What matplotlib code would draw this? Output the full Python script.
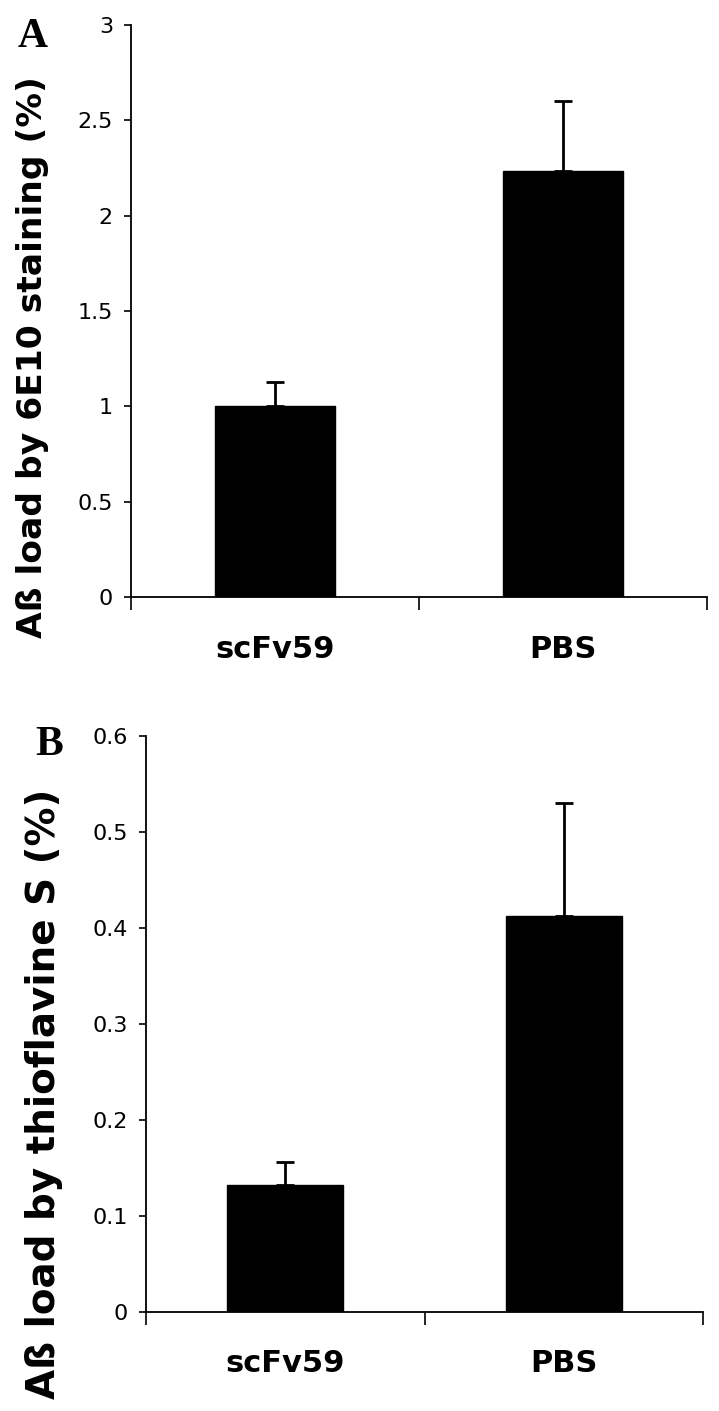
import matplotlib
matplotlib.use("Agg")
import matplotlib.pyplot as plt
import numpy as np

categories = ["scFv59", "PBS"]
a_values = [1.00, 2.235]
a_err_up = [0.13, 0.365]
b_values = [0.132, 0.413]
b_err_up = [0.024, 0.117]

a_ylabel = "Aß load by 6E10 staining (%)"
b_ylabel = "Aß load by thioflavine S (%)"
a_yticks = [0, 0.5, 1, 1.5, 2, 2.5, 3]
a_yticklabels = ["0", "0.5", "1", "1.5", "2", "2.5", "3"]
b_yticks = [0, 0.1, 0.2, 0.3, 0.4, 0.5, 0.6]
b_yticklabels = ["0", "0.1", "0.2", "0.3", "0.4", "0.5", "0.6"]

W, H = 719, 1411
fig = plt.figure(figsize=(W / 100, H / 100), dpi=100)

def ax_rect(l, r, t, b):
    return [l / W, 1 - b / H, (r - l) / W, (b - t) / H]

def panel(rect, values, errs, yticks, yticklabels, ylabel, letter, letter_xy,
          label_xy, label_size):
    ax = fig.add_axes(rect)
    x = np.arange(len(categories)) + 0.5
    ax.bar(x, values, width=0.415, color="black", edgecolor="black", zorder=2)
    ax.errorbar(x, values, yerr=[np.zeros(len(errs)), errs], fmt="none",
                ecolor="black", elinewidth=2.0, capsize=6.2, capthick=2.0, zorder=3)
    ax.set_xlim(0, len(categories))
    ax.set_ylim(yticks[0], yticks[-1])
    ax.set_yticks(yticks)
    ax.set_yticklabels(yticklabels, fontsize=16, family="DejaVu Sans")
    ax.set_xticks(np.arange(len(categories) + 1))
    ax.set_xticklabels([])
    ax.set_xticks(x, minor=True)
    ax.set_xticklabels(categories, minor=True, fontsize=22, fontweight="bold",
                       family="DejaVu Sans")
    ax.tick_params(axis="x", which="major", direction="out", length=9, width=1.2)
    ax.tick_params(axis="x", which="minor", length=0, pad=27)
    ax.tick_params(axis="y", direction="out", length=5, width=1.2, pad=8)
    for s in ["top", "right"]:
        ax.spines[s].set_visible(False)
    for s in ["left", "bottom"]:
        ax.spines[s].set_linewidth(1.3)
    fig.text(label_xy[0] / W, 1 - label_xy[1] / H, ylabel, rotation=90, ha="center",
             va="center", fontsize=label_size, fontweight="bold", family="DejaVu Sans")
    fig.text(letter_xy[0] / W, 1 - letter_xy[1] / H, letter, fontsize=30,
             fontweight="bold", family="Liberation Serif", ha="left", va="baseline")
    return ax

panel(ax_rect(131, 707, 25, 597), a_values, a_err_up, a_yticks, a_yticklabels,
      a_ylabel, "A", (18, 47), (33, 357), 24.8)
panel(ax_rect(146, 703, 736, 1312), b_values, b_err_up, b_yticks, b_yticklabels,
      b_ylabel, "B", (35, 755), (44, 1094), 28)

fig.savefig("out.png", dpi=100)
